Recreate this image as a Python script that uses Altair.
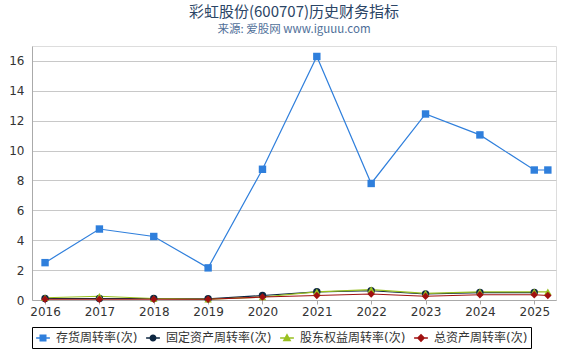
import altair as alt
import pandas as pd

years = [2016, 2017, 2018, 2019, 2020, 2021, 2022, 2023, 2024, 2025, 2025.25]
series_names = ["存货周转率(次)", "固定资产周转率(次)", "股东权益周转率(次)", "总资产周转率(次)"]
inventory = [2.5, 4.75, 4.25, 2.15, 8.75, 16.3, 7.8, 12.45, 11.05, 8.7, 8.7]
fixed_assets = [0.1, 0.1, 0.1, 0.08, 0.3, 0.55, 0.62, 0.4, 0.5, 0.5, None]
equity = [0.15, 0.25, 0.1, 0.05, 0.2, 0.55, 0.7, 0.45, 0.55, 0.55, 0.55]
total_assets = [0.05, 0.05, 0.05, 0.05, 0.2, 0.3, 0.4, 0.25, 0.35, 0.35, 0.3]
colors = ["#2f7fdc", "#0e2741", "#99c020", "#a01010"]
shapes = ["square", "circle", "triangle-up", "diamond"]

rows = []
for name, vals in zip(series_names, [inventory, fixed_assets, equity, total_assets]):
    for x, v in zip(years, vals):
        if v is not None:
            rows.append({"series": name, "year": x, "value": v})
df = pd.DataFrame(rows)

FONT = "DejaVu Sans, Noto Sans CJK SC"
TFONT = "Noto Sans CJK SC"

legend_paths = [
    "M-1,0H1M-0.4,-0.4H0.4V0.4H-0.4Z",
    "M-1,0H1M-0.4,0A0.4,0.4,0,1,1,0.4,0A0.4,0.4,0,1,1,-0.4,0Z",
    "M-1,0H1M0,-0.45L0.45,0.35H-0.45Z",
    "M-1,0H1M0,-0.45L0.45,0L0,0.45L-0.45,0Z",
]

color_scale = alt.Scale(domain=series_names, range=colors)

legend = alt.Legend(
    title=None,
    orient="bottom",
    direction="horizontal",
    columns=4,
    gridAlign="none",
    labelFont=FONT,
    labelFontSize=12,
    labelColor="#333333",
    strokeColor="#000000",
    padding=3,
    offset=10,
    columnPadding=5,
    symbolSize=190,
    symbolStrokeWidth=1.5,
    symbolOpacity=1,
    labelOffset=5,
)

x_enc = alt.X(
    "year:Q",
    scale=alt.Scale(domain=[2015.76, 2025.4], nice=False, zero=False),
    axis=alt.Axis(
        title=None, values=list(range(2016, 2026)), format="d", grid=False,
        labelFont=FONT, labelFontSize=12, labelColor="#333333",
        domainColor="#aaaaaa", tickColor="#aaaaaa", tickSize=4, labelPadding=2,
    ),
)
y_enc = alt.Y(
    "value:Q",
    scale=alt.Scale(domain=[0, 17], nice=False),
    axis=alt.Axis(
        title=None, values=list(range(0, 17, 2)), grid=True, gridColor="#c8c8c8",
        labelFont=FONT, labelFontSize=12, labelColor="#333333",
        domainColor="#aaaaaa", ticks=False, labelPadding=8,
    ),
)

color_enc = alt.Color("series:N", scale=color_scale, legend=legend)
base = alt.Chart(df).encode(x=x_enc, y=y_enc, color=color_enc)

lines = base.mark_line(strokeWidth=1.2)
point_layers = [
    base.transform_filter(alt.datum.series == name)
    .mark_point(filled=True, opacity=1, size=55, shape=shp)
    for name, shp in zip(series_names, shapes)
]
legend_layer = base.transform_filter("false").mark_point(filled=True).encode(
    stroke=alt.Stroke("series:N", scale=alt.Scale(domain=series_names, range=colors), legend=legend),
    shape=alt.Shape("series:N", scale=alt.Scale(domain=series_names, range=legend_paths), legend=legend),
)

chart = (
    alt.layer(lines, *point_layers, legend_layer)
    .properties(
        width=570,
        height=350,
        autosize=alt.AutoSizeParams(type="fit", contains="padding"),
        padding={"left": 8, "right": 14, "top": 4, "bottom": 1},
        title=alt.TitleParams(
            text="彩虹股份(600707)历史财务指标",
            subtitle="来源: 爱股网 www.iguuu.com",
            font=TFONT,
            fontSize=15,
            fontWeight="normal",
            color="#2b4566",
            subtitleFont=TFONT,
            subtitleFontSize=11.5,
            subtitleColor="#4f6f99",
            subtitlePadding=4,
            anchor="middle",
            offset=11,
        ),
    )
    .configure_view(stroke=None)
    .configure(background="white")
)

chart.save("out.html", embed_options={"renderer": "svg", "actions": False})
